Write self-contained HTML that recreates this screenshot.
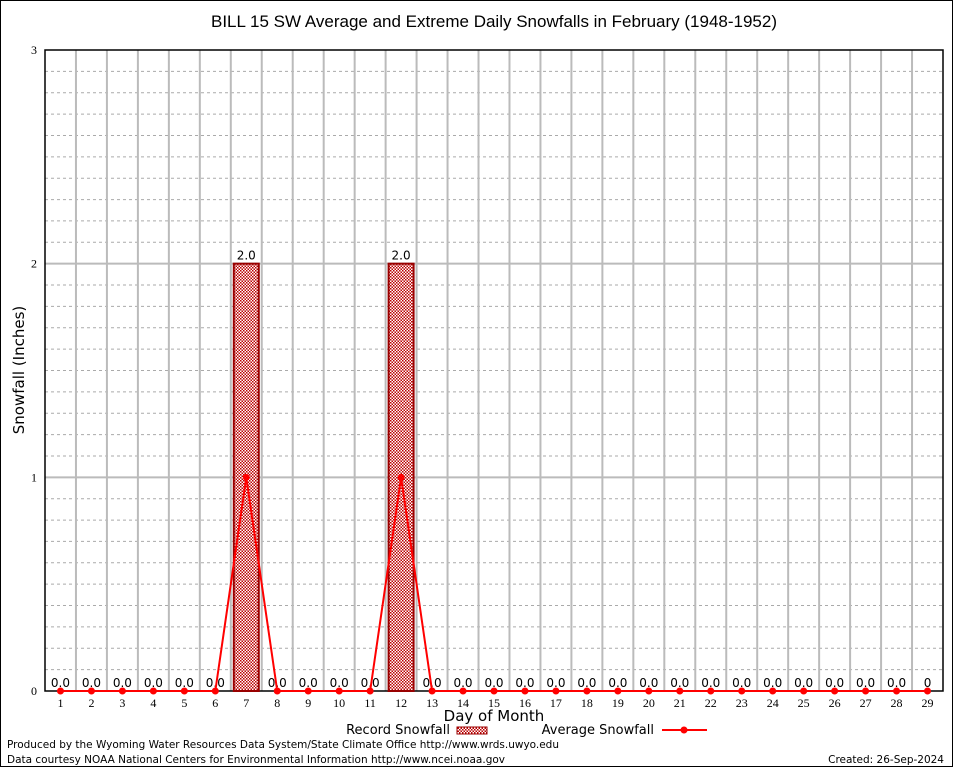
<!DOCTYPE html>
<html><head><meta charset="utf-8"><style>
body{margin:0;background:#fff}
svg{display:block;font-family:"DejaVu Sans","Liberation Sans",sans-serif}
</style></head><body>
<svg id="chart" width="954" height="768" viewBox="0 0 954 768">
<defs><pattern id="chk" width="3" height="3" patternUnits="userSpaceOnUse"><rect width="3" height="3" fill="#fff"/><rect width="1.5" height="1.5" fill="#b00"/><rect x="1.5" y="1.5" width="1.5" height="1.5" fill="#b00"/></pattern></defs>
<rect x="0.5" y="0.5" width="952" height="766" fill="#fff" stroke="#000"/>
<text x="494" y="27" font-size="17" text-anchor="middle" font-family="Liberation Sans, sans-serif">BILL 15 SW Average and Extreme Daily Snowfalls in February (1948-1952)</text>
<g id="grid"></g><g id="marks"></g>
<text transform="translate(24,370) rotate(-90)" font-size="15" text-anchor="middle">Snowfall (Inches)</text>
<text x="494" y="721" font-size="15" text-anchor="middle">Day of Month</text>
<g><text x="450" y="734" font-size="13" text-anchor="end">Record Snowfall</text><rect x="457" y="727" width="30" height="7" fill="url(#chk)" stroke="#900"/></g>
<g><text x="654" y="734" font-size="13" text-anchor="end">Average Snowfall</text><line x1="662" y1="730" x2="707" y2="730" stroke="#f00" stroke-width="2"/><circle cx="684" cy="730" r="3.5" fill="#f00"/></g>
<text x="7" y="748" font-size="10.5" textLength="552" lengthAdjust="spacingAndGlyphs">Produced by the Wyoming Water Resources Data System/State Climate Office http://www.wrds.uwyo.edu</text>
<text x="7" y="763" font-size="10.5" textLength="498" lengthAdjust="spacingAndGlyphs">Data courtesy NOAA National Centers for Environmental Information http://www.ncei.noaa.gov</text>
<text x="944" y="763" font-size="10.5" text-anchor="end">Created: 26-Sep-2024</text>
</svg>
<script>
const days=[1,2,3,4,5,6,7,8,9,10,11,12,13,14,15,16,17,18,19,20,21,22,23,24,25,26,27,28,29];
const recordSnow=[0,0,0,0,0,0,2.0,0,0,0,0,2.0,0,0,0,0,0,0,0,0,0,0,0,0,0,0,0,0,0];
const avgSnow=[0,0,0,0,0,0,1.0,0,0,0,0,1.0,0,0,0,0,0,0,0,0,0,0,0,0,0,0,0,0,0];
const recordLabels=["0.0","0.0","0.0","0.0","0.0","0.0","2.0","0.0","0.0","0.0","0.0","2.0","0.0","0.0","0.0","0.0","0.0","0.0","0.0","0.0","0.0","0.0","0.0","0.0","0.0","0.0","0.0","0.0","0"];
const yTicks=[0,1,2,3];
const L=45,R=943,T=50,B=691,yMax=3,step=(R-L)/29;
const X=d=>L+step*(d-0.5);
const Y=v=>B-(v/yMax)*(B-T);
const NS="http://www.w3.org/2000/svg";
function mk(t,a,p){const e=document.createElementNS(NS,t);for(const k in a)e.setAttribute(k,a[k]);p.appendChild(e);return e;}
const g=document.getElementById('grid'),m=document.getElementById('marks');
for(let i=1;i<30;i++){if(i%10===0)continue;const v=i/10;
const l=mk('line',{x1:L,x2:R,y1:Y(v),y2:Y(v),stroke:'#aaa','stroke-dasharray':'3,3','stroke-width':1},g);

}
for(let k=1;k<29;k++){const x=L+step*k;
const l=mk('line',{x1:x,x2:x,y1:T,y2:B,stroke:'#bbb','stroke-width':2},g);

}
yTicks.forEach(v=>{if(v>0&&v<yMax){const l=mk('line',{x1:L,x2:R,y1:Y(v),y2:Y(v),stroke:'#bbb','stroke-width':2},g);

}
const t=mk('text',{x:L-8,y:Y(v)+4,'font-size':12,'text-anchor':'end','font-family':'Liberation Serif, serif'},g);t.textContent=v;

});
const fr=mk('rect',{x:L,y:T,width:R-L,height:B-T,fill:'none',stroke:'#000','stroke-width':1.5},g);


days.forEach((d,i)=>{const x=X(d);
if(recordSnow[i]>0){const b=mk('rect',{x:x-12.5,y:Y(recordSnow[i]),width:25,height:B-Y(recordSnow[i]),fill:'url(#chk)',stroke:'#900','stroke-width':2},m);

}
const lb=mk('text',{x:x,y:Y(recordSnow[i])-4,'font-size':12,'text-anchor':'middle'},m);lb.textContent=recordLabels[i];


const tl=mk('text',{x:x,y:B+16,'font-size':12,'text-anchor':'middle','font-family':'Liberation Serif, serif'},m);tl.textContent=d;

});
const pl=mk('polyline',{points:days.map((d,i)=>X(d)+','+Y(avgSnow[i])).join(' '),fill:'none',stroke:'#f00','stroke-width':2},m);


days.forEach((d,i)=>{const c=mk('circle',{cx:X(d),cy:Y(avgSnow[i]),r:3.5,fill:'#f00'},m);

});
</script>
</body></html>
